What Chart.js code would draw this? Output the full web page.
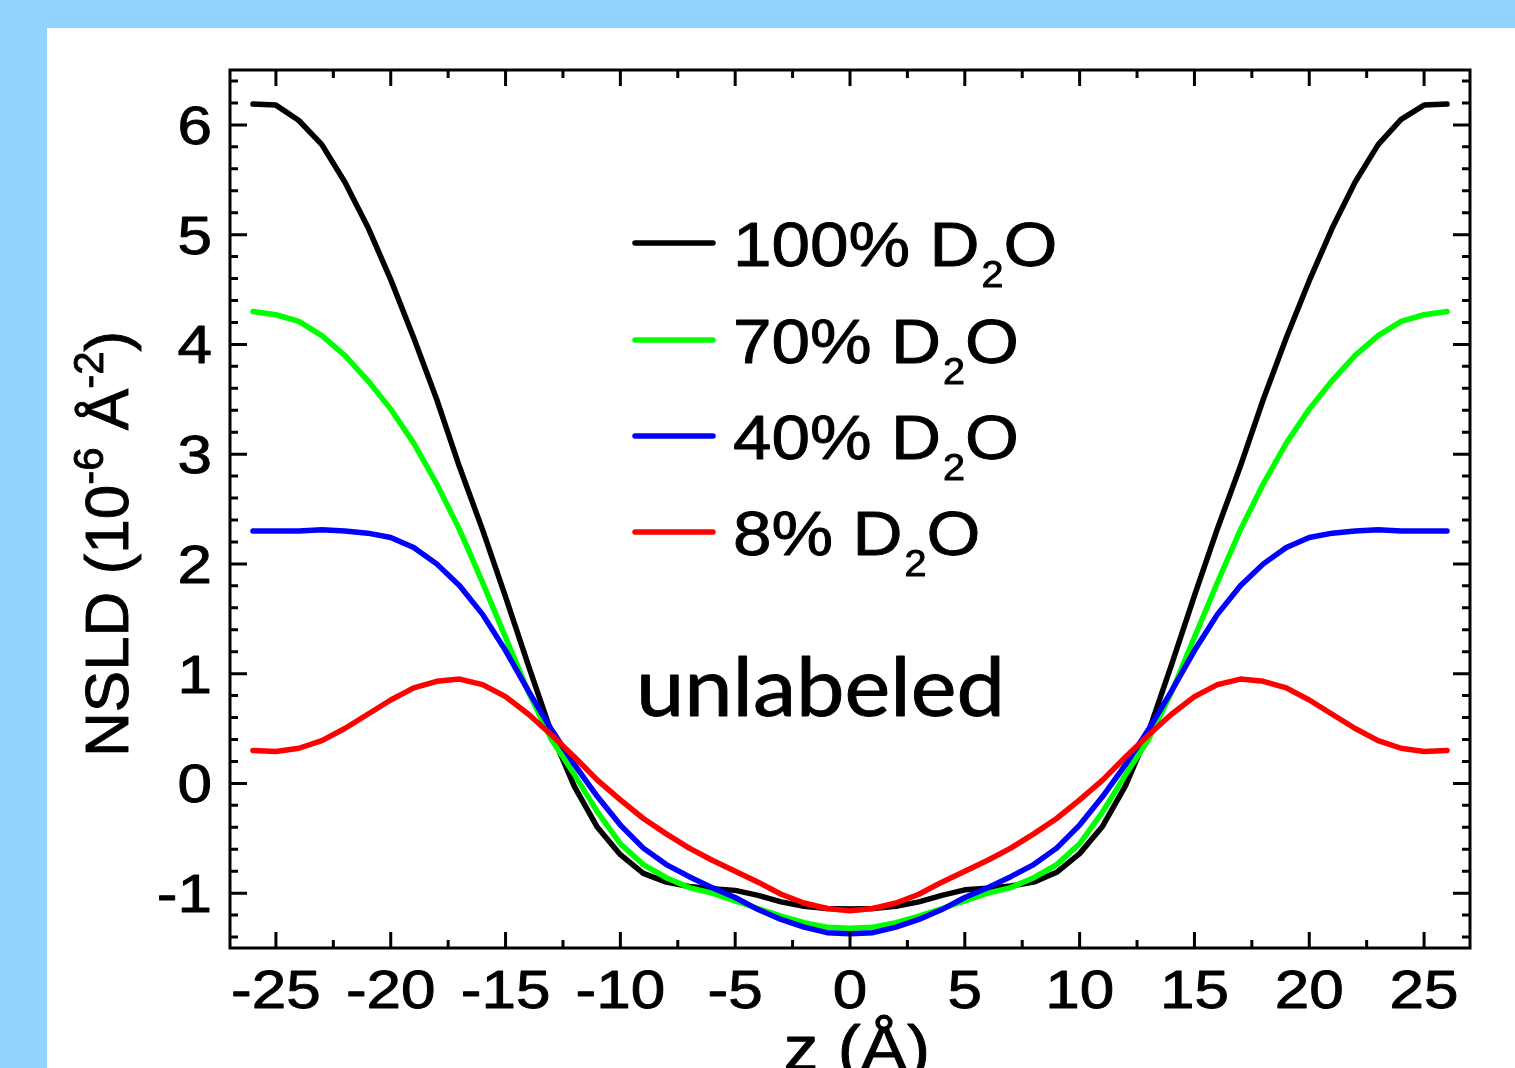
<!DOCTYPE html>
<html>
<head>
<meta charset="utf-8">
<script src="https://cdn.jsdelivr.net/npm/chart.js@4.4.1/dist/chart.umd.min.js"></script>
<style>
  html, body { margin: 0; padding: 0; background: #fff; }
  #wrap { width: 1515px; height: 1068px; }
</style>
</head>
<body>
<div id="wrap"><canvas id="nsld" width="1515" height="1068"></canvas></div>
<script>
// z positions (Å)
const zValues = [-26, -25, -24, -23, -22, -21, -20, -19, -18, -17, -16, -15, -14, -13, -12, -11, -10, -9, -8, -7, -6, -5, -4, -3, -2, -1,
  0, 1, 2, 3, 4, 5, 6, 7, 8, 9, 10, 11, 12, 13, 14, 15, 16, 17, 18, 19, 20, 21, 22, 23, 24, 25, 26];

// NSLD profiles (10^-6 Å^-2)
const d2o100 = [6.19, 6.18, 6.04, 5.82, 5.48, 5.07, 4.59, 4.06, 3.50, 2.88, 2.31, 1.70, 1.07, 0.46, -0.03, -0.40, -0.65, -0.82, -0.90, -0.94, -0.96, -0.975, -1.02, -1.08, -1.12, -1.14,
  -1.145, -1.14, -1.12, -1.08, -1.02, -0.97, -0.955, -0.935, -0.90, -0.81, -0.64, -0.39, -0.02, 0.47, 1.08, 1.71, 2.32, 2.89, 3.50, 4.06, 4.58, 5.06, 5.48, 5.82, 6.05, 6.18, 6.19];
const d2o70 = [4.30, 4.27, 4.21, 4.08, 3.90, 3.67, 3.41, 3.10, 2.73, 2.31, 1.83, 1.33, 0.83, 0.40, 0.08, -0.26, -0.55, -0.74, -0.86, -0.95, -1.00, -1.07, -1.14, -1.21, -1.27, -1.31,
  -1.32, -1.31, -1.27, -1.21, -1.14, -1.07, -1.00, -0.95, -0.86, -0.74, -0.55, -0.26, 0.08, 0.40, 0.83, 1.33, 1.83, 2.31, 2.73, 3.10, 3.41, 3.67, 3.90, 4.08, 4.21, 4.27, 4.30];
const d2o40 = [2.30, 2.30, 2.30, 2.31, 2.30, 2.28, 2.24, 2.15, 2.00, 1.80, 1.54, 1.21, 0.84, 0.49, 0.17, -0.12, -0.38, -0.59, -0.74, -0.85, -0.95, -1.04, -1.15, -1.24, -1.31, -1.36,
  -1.37, -1.36, -1.31, -1.24, -1.15, -1.04, -0.95, -0.85, -0.74, -0.59, -0.38, -0.12, 0.17, 0.49, 0.84, 1.21, 1.54, 1.80, 2.00, 2.15, 2.24, 2.28, 2.30, 2.31, 2.30, 2.30, 2.30];
const d2o8 = [0.30, 0.29, 0.32, 0.39, 0.50, 0.63, 0.76, 0.87, 0.93, 0.95, 0.90, 0.79, 0.63, 0.44, 0.24, 0.03, -0.15, -0.32, -0.46, -0.59, -0.70, -0.80, -0.90, -1.01, -1.09, -1.14,
  -1.16, -1.14, -1.09, -1.01, -0.90, -0.80, -0.70, -0.59, -0.46, -0.32, -0.15, 0.03, 0.24, 0.44, 0.63, 0.79, 0.90, 0.95, 0.93, 0.87, 0.76, 0.63, 0.50, 0.39, 0.32, 0.29, 0.30];

const seriesNames = ["100%", "70%", "40%", "8%"];
const seriesColors = ["#000000", "#00ff00", "#0000ff", "#ff0000"];

// axis ticks
const xMajorTicks = [-25, -20, -15, -10, -5, 0, 5, 10, 15, 20, 25];
const xMinorTicks = [-22.5, -17.5, -12.5, -7.5, -2.5, 2.5, 7.5, 12.5, 17.5, 22.5];
const yMajorTicks = [-1, 0, 1, 2, 3, 4, 5, 6];
const yMinorTicks = [-1.4, -1.2, -0.8, -0.6, -0.4, -0.2, 0.2, 0.4, 0.6, 0.8, 1.2, 1.4, 1.6, 1.8,
  2.2, 2.4, 2.6, 2.8, 3.2, 3.4, 3.6, 3.8, 4.2, 4.4, 4.6, 4.8, 5.2, 5.4, 5.6, 5.8, 6.2, 6.4];

const ARIAL = '"Liberation Sans", Arial, sans-serif';

function toPoints(vals) {
  return zValues.map((z, i) => ({ x: z, y: vals[i] }));
}

// text with a slight horizontal stretch like the original figure
function stretchText(ctx, str, x, y, font, align, sx) {
  ctx.save();
  ctx.font = font;
  ctx.translate(x, y);
  ctx.scale(sx, 1);
  ctx.textAlign = align;
  ctx.textBaseline = "alphabetic";
  ctx.lineWidth = 0.9;
  ctx.strokeStyle = ctx.fillStyle;
  ctx.lineJoin = "round";
  ctx.fillText(str, 0, 0);
  ctx.strokeText(str, 0, 0);
  ctx.restore();
}

const decorPlugin = {
  id: "decor",
  beforeDraw(chart) {
    const ctx = chart.ctx;
    ctx.save();
    ctx.fillStyle = "#94d3fd";
    ctx.fillRect(0, 0, chart.width, chart.height);
    ctx.fillStyle = "#ffffff";
    ctx.fillRect(47, 28, chart.width - 47, chart.height - 28);
    ctx.restore();
  },
  afterDraw(chart) {
    const ctx = chart.ctx;
    const a = chart.chartArea;
    const xs = chart.scales.x, ys = chart.scales.y;
    ctx.save();
    ctx.strokeStyle = "#000";
    ctx.lineWidth = 3;
    ctx.lineCap = "butt";
    ctx.strokeRect(a.left, a.top, a.right - a.left, a.bottom - a.top);

    ctx.beginPath();
    const xTick = (v, len) => {
      const px = xs.getPixelForValue(v);
      ctx.moveTo(px, a.bottom); ctx.lineTo(px, a.bottom - len);
      ctx.moveTo(px, a.top); ctx.lineTo(px, a.top + len);
    };
    const yTick = (v, len) => {
      const py = ys.getPixelForValue(v);
      ctx.moveTo(a.left, py); ctx.lineTo(a.left + len, py);
      ctx.moveTo(a.right, py); ctx.lineTo(a.right - len, py);
    };
    xMajorTicks.forEach(v => xTick(v, 16));
    xMinorTicks.forEach(v => xTick(v, 8));
    yMajorTicks.forEach(v => yTick(v, 17));
    yMinorTicks.forEach(v => yTick(v, 8));
    ctx.stroke();

    // tick labels
    ctx.fillStyle = "#000";
    const tickFont = "53px " + ARIAL;
    xMajorTicks.forEach(v => {
      stretchText(ctx, String(v), xs.getPixelForValue(v), 1008, tickFont, "center", 1.17);
    });
    yMajorTicks.forEach(v => {
      stretchText(ctx, String(v), 212, ys.getPixelForValue(v) + 19, tickFont, "right", 1.17);
    });

    // x title
    stretchText(ctx, "z (Å)", 857, 1070, "63px " + ARIAL, "center", 1.1);

    // y title (rotated, with superscripts)
    ctx.save();
    ctx.translate(128, 757);
    ctx.rotate(-Math.PI / 2);
    ctx.textAlign = "left";
    ctx.textBaseline = "alphabetic";
    ctx.lineWidth = 0.9;
    ctx.strokeStyle = "#000";
    const big = "62px " + ARIAL, sup = "42px " + ARIAL;
    const parts = [["NSLD (10", big, 0], ["-6", sup, -25], [" Å", big, 0], ["-2", sup, -25], [")", big, 0]];
    let cx = 0;
    parts.forEach(p => {
      ctx.font = p[1];
      ctx.fillText(p[0], cx, p[2]);
      ctx.strokeText(p[0], cx, p[2]);
      cx += ctx.measureText(p[0]).width;
    });
    ctx.restore();

    // legend
    const rowY = [243, 340, 436, 532];
    ctx.lineWidth = 5.5;
    ctx.lineCap = "round";
    seriesNames.forEach((name, i) => {
      ctx.strokeStyle = seriesColors[i];
      ctx.beginPath();
      ctx.moveTo(635, rowY[i]);
      ctx.lineTo(713, rowY[i]);
      ctx.stroke();
      const base = rowY[i] + 23;
      const sx = 1.1;
      ctx.font = "63px " + ARIAL;
      const w1 = ctx.measureText(name + " D").width * sx;
      stretchText(ctx, name + " D", 733, base, "63px " + ARIAL, "left", sx);
      ctx.font = "36px " + ARIAL;
      const w2 = ctx.measureText("2").width * sx;
      stretchText(ctx, "2", 733 + w1 + 2, base + 21, "36px " + ARIAL, "left", sx);
      stretchText(ctx, "O", 733 + w1 + w2 + 2, base, "63px " + ARIAL, "left", sx);
    });

    // panel label
    ctx.font = '82px Lato, "Open Sans", sans-serif';
    const uw = ctx.measureText("unlabeled").width;
    stretchText(ctx, "unlabeled", 636, 716, '82px Lato, "Open Sans", sans-serif', "left", 369 / uw);
    ctx.restore();
  }
};

const datasets = [d2o100, d2o70, d2o40, d2o8].map((vals, i) => ({
  label: seriesNames[i] + " D2O",
  data: toPoints(vals),
  borderColor: seriesColors[i],
  backgroundColor: seriesColors[i],
  borderWidth: 5.5,
  pointRadius: 0,
  tension: 0,
  fill: false,
  borderJoinStyle: "round",
  borderCapStyle: "round"
}));
// draw black on top like the original
datasets.reverse();

new Chart(document.getElementById("nsld"), {
  type: "line",
  data: { datasets: datasets },
  options: {
    responsive: false,
    animation: false,
    devicePixelRatio: 1,
    layout: { padding: { left: 0, top: 70, right: 45, bottom: 0 } },
    plugins: { legend: { display: false }, tooltip: { enabled: false } },
    scales: {
      x: {
        type: "linear",
        min: -27,
        max: 27,
        grid: { display: false },
        border: { display: false },
        ticks: { display: false },
        afterFit: s => { s.height = 120; }
      },
      y: {
        type: "linear",
        min: -1.5,
        max: 6.5,
        grid: { display: false },
        border: { display: false },
        ticks: { display: false },
        afterFit: s => { s.width = 230; }
      }
    }
  },
  plugins: [decorPlugin]
});
</script>
</body>
</html>
